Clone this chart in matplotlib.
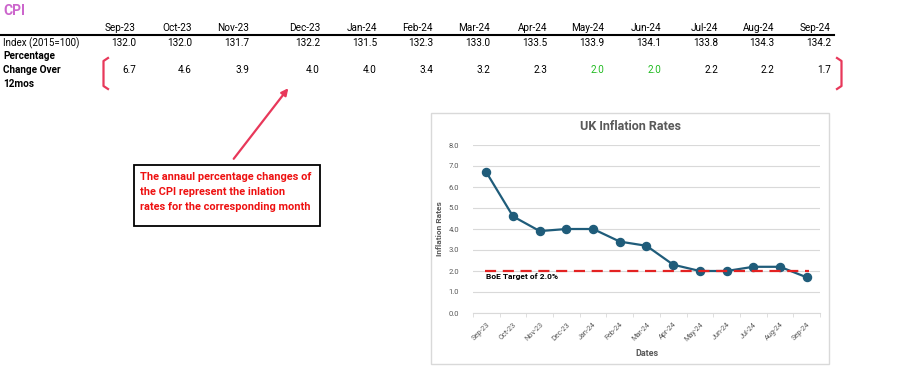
import matplotlib.pyplot as plt
from matplotlib.patches import Rectangle
from matplotlib.lines import Line2D

plt.rcParams["font.family"] = ["Roboto", "DejaVu Sans"]

months = ["Sep-23", "Oct-23", "Nov-23", "Dec-23", "Jan-24", "Feb-24", "Mar-24",
          "Apr-24", "May-24", "Jun-24", "Jul-24", "Aug-24", "Sep-24"]
index_vals = [132.0, 132.0, 131.7, 132.2, 131.5, 132.3, 133.0,
              133.5, 133.9, 134.1, 133.8, 134.3, 134.2]
pct_change = [6.7, 4.6, 3.9, 4.0, 4.0, 3.4, 3.2, 2.3, 2.0, 2.0, 2.2, 2.2, 1.7]
boe_target = 2.0

# right edges of the table columns (pixels)
col_x = [136, 192, 249, 320, 377, 433, 490, 547, 604, 661, 718, 774, 831]

W, H = 904, 372
fig = plt.figure(figsize=(W / 100, H / 100), dpi=100)

bg = fig.add_axes([0, 0, 1, 1])
bg.set_xlim(0, W)
bg.set_ylim(H, 0)
bg.axis("off")

# table
bg.text(3, 11, "CPI", color="#CC66CC", fontsize=10, fontweight="bold", va="center")
for x, m in zip(col_x, months):
    bg.text(x, 28, m, ha="right", va="center", fontsize=7.2)
bg.plot([0, 834], [34.5, 34.5], color="black", lw=1.5)
bg.text(3, 43, "Index (2015=100)", va="center", fontsize=7)
for x, v in zip(col_x, index_vals):
    bg.text(x, 43, f"{v:.1f}", ha="right", va="center", fontsize=7.2)
bg.text(3, 56, "Percentage", va="center", fontsize=7.2, fontweight="bold")
bg.text(3, 70, "Change Over", va="center", fontsize=7.2, fontweight="bold")
bg.text(3, 84, "12mos", va="center", fontsize=7.2, fontweight="bold")
for x, v in zip(col_x, pct_change):
    c = "#22BB22" if v == boe_target else "black"
    bg.text(x, 70, f"{v:.1f}", ha="right", va="center", fontsize=7.2, color=c)

pink = "#E8385A"
bg.add_line(Line2D([108, 103.5, 103.5, 108], [58, 61, 86, 89], color=pink, lw=1.6))
bg.add_line(Line2D([837, 841.5, 841.5, 837], [58, 61, 86, 89], color=pink, lw=1.6))

bg.annotate("", xy=(290, 86), xytext=(232, 161),
            arrowprops=dict(arrowstyle="-|>", color=pink, lw=1.6, mutation_scale=10))
bg.add_patch(Rectangle((134, 165), 186, 61, fill=False, edgecolor="black", lw=1.3))
for i, line in enumerate(["The annaul percentage changes of",
                          "the CPI represent the inlation",
                          "rates for the corresponding month"]):
    bg.text(140, 177 + i * 15, line, color="#EE1111", fontsize=7.9,
            fontweight="bold", va="center")

# chart frame
bg.add_patch(Rectangle((431, 113), 398, 251, fill=False, edgecolor="#D9D9D9", lw=1))
bg.text(631, 127, "UK Inflation Rates", ha="center", va="center",
        fontsize=9, fontweight="bold", color="#595959")

ax = fig.add_axes([473 / W, 1 - 313 / H, (820 - 473) / W, (313 - 145) / H])
xs = list(range(len(months)))
ax.plot(xs, pct_change, color="#1F5C7A", lw=1.6, marker="o", markersize=5.8)
ax.plot([-0.05, 12.1], [boe_target, boe_target], color="#E32222", lw=1.6,
        linestyle=(0, (5, 3)))
ax.text(0, boe_target - 0.08, f"BoE Target of {boe_target:.1f}%", fontsize=6,
        fontweight="bold", va="top", ha="left")
ax.set_xlim(-0.5, len(months) - 0.5)
ax.set_ylim(0, 8)
ax.set_yticks(range(9))
ax.set_yticklabels([f"{v:.1f}" for v in range(9)], fontsize=5.5, color="#595959")
ax.set_xticks(xs)
ax.set_xticklabels(months, rotation=45, ha="right", rotation_mode="anchor",
                   fontsize=5.2, color="#595959")
ax.set_xticks([x - 0.5 for x in range(len(months) + 1)], minor=True)
ax.tick_params(axis="x", which="major", length=0, pad=6)
ax.tick_params(axis="x", which="minor", length=3, color="#D9D9D9")
ax.tick_params(axis="y", length=0, pad=10)
ax.grid(axis="y", color="#D9D9D9", lw=0.8)
ax.set_axisbelow(True)
for s in ["top", "right", "left"]:
    ax.spines[s].set_visible(False)
ax.spines["bottom"].set_color("#D9D9D9")
ax.set_xlabel("Dates", fontsize=6.5, fontweight="bold", color="#595959", labelpad=4)
ax.set_ylabel("Inflation Rates", fontsize=6, fontweight="bold", color="#595959", labelpad=4)

fig.savefig("out.png", dpi=100)
